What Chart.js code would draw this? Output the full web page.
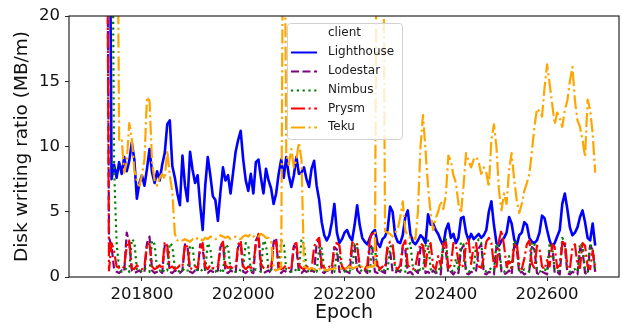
<!DOCTYPE html>
<html>
<head>
<meta charset="utf-8">
<script src="https://cdn.jsdelivr.net/npm/chart.js@4.4.1/dist/chart.umd.min.js"></script>
<style>
  html, body { margin: 0; padding: 0; background: #ffffff; }
  #c { display: block; }
</style>
</head>
<body>
<canvas id="c" width="623" height="324"></canvas>
<script>
// Disk writing ratio per client, sampled every 5 epochs starting at firstEpoch.
const firstEpoch = 201730;
const epochStep = 5;

const lighthouse = [
  null, 40, 7.5, 8.6, 7.6, 8.8, 7.9, 9.2, 8.1, 8.9,
  10.3, 9.0, 6.0, 7.2, 7.8, 7.0, 8.3, 9.8, 8.0, 7.2,
  8.1, 7.4, 8.6, 9.5, 11.7, 12.0, 8.5, 7.6, 6.4, 5.5,
  9.3, 7.0, 5.8, 9.6, 8.2, 7.2, 7.8, 5.5, 3.6, 7.0,
  9.2, 7.8, 6.2, 5.9, 4.3, 6.5, 8.4, 7.4, 7.8, 6.4,
  8.0, 9.6, 10.5, 11.2, 9.0, 7.4, 6.6, 7.9, 6.4, 8.8,
  9.0, 7.6, 6.4, 8.3, 7.4, 6.8, 5.6, 6.4, 7.9, 9.0,
  7.6, 9.2, 7.8, 6.9, 7.8, 9.2, 7.9, 8.0, 8.4, 7.5,
  6.9, 8.3, 8.9, 7.0, 5.9, 4.2, 3.2, 2.8, 3.2, 4.2,
  5.6, 3.4, 2.6, 2.9, 3.4, 3.6, 3.1, 2.8, 4.0, 5.5,
  4.0, 3.0, 2.7, 2.5, 3.0, 3.4, 3.6, 2.6, 2.3, 2.9,
  3.1, 3.6, 5.4, 5.0, 3.2, 2.7, 2.6, 3.2, 4.6, 5.1,
  3.3, 2.7, 2.5, 2.8, 3.2, 3.0, 2.6, 4.8, 4.0, 4.1,
  3.6, 3.3, 2.8, 2.4, 3.6, 4.1, 3.0, 3.3, 2.6, 3.0,
  4.5, 4.6, 3.4, 2.8, 3.3, 2.9, 3.1, 3.3, 3.0, 3.2,
  3.6, 5.0, 5.8, 4.0, 2.6, 2.4, 2.8, 3.0, 3.4, 4.6,
  4.1, 2.9, 2.4, 3.2, 3.4, 4.2, 4.0, 3.0, 2.7, 2.6,
  2.8, 3.4, 4.7, 4.5, 3.6, 2.8, 2.3, 2.6, 3.1, 3.6,
  5.6, 6.4, 5.2, 3.8, 3.2, 3.4, 3.8, 4.6, 5.1, 4.2,
  3.0, 2.8, 4.1, 2.4
];

const lodestar = [
  40, 3.0, 2.4, 0.6, 0.4, 0.3, 0.5, 0.4, 3.4, 2.6,
  0.5, 0.3, 0.4, 0.5, 0.3, 0.4, 2.6, 3.1, 0.5, 0.3,
  0.4, 0.5, 0.3, 2.4, 2.2, 0.4, 0.3, 0.5, 0.4, 0.3,
  0.5, 2.5, 2.3, 0.4, 0.3, 0.5, 0.4, 2.5, 2.2, 0.4,
  0.3, 0.5, 0.4, 0.3, 0.5, 2.3, 2.5, 0.4, 0.3, 0.5,
  0.4, 0.3, 2.3, 2.6, 0.4, 0.3, 0.5, 0.4, 0.3, 2.8,
  3.2, 0.5, 0.3, 0.4, 0.5, 0.3, 2.7, 3.0, 0.4, 0.3,
  0.5, 0.4, 0.3, 0.5, 2.4, 2.2, 0.4, 0.3, 0.5, 0.4,
  0.3, 0.5, 0.4, 2.6, 2.8, 0.4, 0.3, 0.5, 0.4, 0.3,
  2.3, 2.1, 0.4, 0.3, 0.5, 0.4, 0.3, 2.2, 2.4, 0.5,
  0.3, 0.4, 0.5, 0.3, 2.5, 2.2, 0.4, 0.3, 0.5, 0.4,
  0.3, 2.2, 2.0, 0.4, 0.3, 0.5, 0.4, 2.3, 2.1, 0.3,
  0.4, 0.2, 0.5, 0.3, 2.2, 2.4, 0.3, 0.4, 0.2, 0.5,
  0.3, 0.4, 0.2, 2.3, 2.0, 0.3, 0.4, 0.2, 0.5, 0.3,
  2.1, 2.4, 0.3, 0.2, 0.4, 0.3, 0.5, 2.2, 2.5, 0.3,
  0.2, 0.4, 0.3, 0.2, 2.3, 2.1, 0.4, 0.2, 0.3, 0.5,
  0.2, 2.4, 2.2, 0.3, 0.4, 0.2, 0.3, 0.5, 2.3, 2.1,
  0.3, 0.2, 0.4, 0.3, 0.2, 2.2, 2.5, 0.3, 0.4, 0.2,
  2.7, 2.4, 0.3, 0.2, 0.4, 0.3, 0.2, 2.2, 2.0, 0.3,
  0.2, 2.4, 2.1, 0.4
];

const nimbus = [
  null, null, 40, 8.4, 2.6, 0.6, 0.4, 0.5, 0.7, 0.4,
  2.9, 2.7, 0.6, 0.4, 0.5, 0.7, 0.5, 0.4, 2.8, 2.5,
  0.6, 0.5, 0.3, 0.6, 0.5, 2.6, 2.4, 0.7, 0.5, 0.4,
  0.6, 0.5, 0.4, 2.4, 2.3, 0.6, 0.5, 0.4, 0.6, 0.5,
  2.6, 2.2, 0.5, 0.4, 0.6, 0.5, 0.3, 2.5, 2.3, 0.6,
  0.5, 0.4, 0.6, 0.5, 0.7, 2.6, 2.4, 0.5, 0.4, 0.6,
  0.5, 0.4, 2.8, 2.5, 0.6, 0.5, 0.4, 0.6, 0.5, 2.8,
  2.6, 0.6, 0.5, 0.4, 0.6, 0.5, 0.4, 2.9, 2.5, 0.6,
  0.4, 0.5, 0.6, 0.4, 2.4, 2.2, 0.5, 0.4, 0.6, 0.5,
  0.4, 1.8, 1.7, 0.5, 0.4, 0.6, 0.5, 0.4, 2.5, 2.3,
  0.6, 0.4, 0.5, 0.6, 0.4, 2.4, 2.2, 0.6, 0.5, 0.4,
  0.6, 0.5, 2.3, 2.5, 0.6, 0.4, 0.5, 0.6, 0.4, 2.4,
  2.6, 0.7, 0.5, 0.4, 0.6, 0.5, 2.4, 2.8, 0.6, 0.5,
  0.4, 0.7, 0.5, 2.6, 2.9, 0.6, 0.4, 0.5, 1.4, 0.5,
  2.7, 2.5, 0.6, 0.4, 0.5, 0.6, 2.5, 2.9, 2.6, 0.6,
  0.4, 0.5, 0.7, 0.5, 2.6, 2.4, 0.6, 0.4, 0.5, 1.6,
  0.5, 2.8, 2.6, 0.5, 0.4, 0.6, 0.5, 0.4, 2.7, 2.5,
  0.6, 0.4, 0.5, 0.6, 0.4, 2.6, 2.3, 0.5, 0.4, 0.6,
  3.0, 2.7, 0.6, 0.4, 0.5, 0.6, 0.4, 2.6, 2.4, 0.5,
  0.4, 2.5, 2.2, 0.5
];

const prysm = [
  40, 0.5, 2.6, 2.0, 0.8, 0.7, 0.6, 0.8, 2.4, 2.8,
  0.7, 0.6, 0.9, 0.7, 0.6, 0.8, 2.6, 2.5, 0.8, 0.6,
  0.7, 0.9, 0.6, 2.7, 2.4, 0.7, 0.8, 0.6, 0.7, 0.9,
  0.8, 2.5, 2.3, 0.7, 0.6, 0.8, 0.7, 2.2, 2.6, 0.8,
  0.6, 0.9, 0.7, 0.6, 0.8, 2.4, 2.7, 0.9, 0.7, 0.8,
  0.6, 0.7, 2.5, 2.8, 0.8, 0.6, 0.8, 0.7, 0.9, 2.6,
  3.3, 1.0, 0.7, 0.6, 0.8, 0.7, 2.4, 2.7, 0.8, 0.6,
  0.7, 0.9, 0.7, 0.6, 2.5, 2.6, 0.9, 0.7, 0.6, 0.8,
  0.7, 0.6, 2.3, 2.8, 3.0, 0.9, 0.7, 0.6, 0.8, 0.7,
  2.5, 2.6, 2.4, 0.8, 0.6, 0.7, 0.9, 2.6, 2.7, 2.5,
  0.8, 0.7, 0.6, 0.9, 2.8, 3.5, 3.2, 0.9, 0.6, 0.8,
  0.7, 2.4, 2.7, 2.5, 0.8, 0.6, 0.9, 2.4, 2.8, 0.9,
  0.7, 0.6, 0.8, 1.8, 2.6, 2.4, 0.8, 2.3, 2.6, 0.8,
  0.6, 1.6, 0.9, 2.5, 2.7, 0.7, 0.9, 2.6, 2.4, 1.2,
  0.7, 0.9, 2.5, 2.9, 1.0, 2.4, 2.6, 0.8, 0.7, 1.5,
  2.7, 3.0, 2.6, 0.9, 0.6, 2.8, 3.6, 2.4, 0.8, 1.2,
  0.7, 2.4, 2.6, 0.9, 0.6, 1.4, 2.5, 2.8, 1.0, 0.7,
  2.4, 2.2, 0.8, 0.6, 1.3, 0.8, 2.5, 2.3, 0.7, 0.9,
  2.6, 2.8, 0.8, 0.6, 2.3, 2.5, 0.9, 0.7, 2.6, 2.4,
  0.8, 0.6, 2.0, 0.7
];

const teku = [
  null, null, null, null, 40, 10.5, 10.6, 8.0, 8.8, 11.8,
  10.6, 8.2, 7.4, 7.0, 7.8, 9.0, 13.8, 13.5, 8.8, 7.4,
  7.0, 7.6, 7.9, 7.5, 9.7, 7.8, 6.5, 3.3, 2.8, 2.9,
  2.8, 2.9, 2.8, 2.7, 2.9, 2.8, 3.0, 2.9, 2.8, 3.0,
  2.9, 3.1, 3.0, 2.9, 3.0, 3.2, 3.1, 3.0, 3.1, 2.9,
  3.0, 3.1, 3.0, 2.9, 3.1, 3.2, 3.1, 3.3, 3.1, 3.2,
  3.1, 3.3, 3.2, 3.0, 3.0, 2.7, 0.6, 0.5, 0.6, 0.7,
  40, 9.5, 8.6, 9.8, 8.4, 9.0, 10.3, 9.0, 0.8, 0.7,
  0.6, 0.7, 0.6, 0.5, 0.6, 0.7, 0.6, 0.5, 0.6, 0.6,
  0.7, 0.6, 0.6, 0.7, 0.6, 0.7, 0.8, 0.7, 0.7, 0.8,
  0.7, 0.8, 0.8, 0.7, 0.8, 0.8, 0.9, 40, 40, 40,
  3.5, 3.4, 3.3, 3.1, 3.4, 3.6, 4.6, 5.8, 3.6, 3.1,
  3.0, 3.1, 2.9, 5.0, 10.0, 12.4, 9.7, 6.9, 4.9, 3.6,
  4.5, 5.0, 5.8, 5.2, 6.2, 9.3, 8.9, 7.8, 7.2, 5.6,
  4.9, 7.0, 9.5, 8.9, 8.4, 9.0, 9.2, 8.8, 7.9, 8.4,
  8.0, 6.9, 10.5, 11.7, 10.0, 6.6, 5.1, 6.4, 5.6, 8.2,
  9.5, 7.5, 5.9, 4.9, 5.6, 6.6, 7.2, 7.9, 9.6, 11.5,
  12.9, 12.7, 12.3, 14.5, 16.3, 14.8, 13.3, 11.7, 12.6, 12.2,
  11.5, 12.8, 13.5, 15.0, 16.1, 13.5, 12.0, 11.5, 10.5, 9.2,
  13.6, 12.8, 11.0, 8.0
];

const clients = ['Lighthouse', 'Lodestar', 'Nimbus', 'Prysm', 'Teku'];
const xTickValues = [201800, 202000, 202200, 202400, 202600];
const yTickValues = [0, 5, 10, 15, 20];

const FONT = "'DejaVu Sans', 'Liberation Sans', sans-serif";

const epochs = lighthouse.map((_, i) => firstEpoch + i * epochStep);
const toPoints = vals => vals.map((y, i) => ({ x: epochs[i], y }));

const styles = {
  Lighthouse: { color: '#0000ff', dash: [], width: 2.6 },
  Lodestar:   { color: '#800080', dash: [8, 3.5], width: 2.2 },
  Nimbus:     { color: '#008000', dash: [2.2, 3.6], width: 2.2 },
  Prysm:      { color: '#ff0000', dash: [14, 3.5, 2.2, 3.5], width: 2.2 },
  Teku:       { color: '#ffa500', dash: [14, 3.5, 2.2, 3.5], width: 2.2 }
};
const seriesValues = { Lighthouse: lighthouse, Lodestar: lodestar, Nimbus: nimbus, Prysm: prysm, Teku: teku };

const datasets = clients.map((name, i) => ({
  label: name,
  data: toPoints(seriesValues[name]),
  borderColor: styles[name].color,
  backgroundColor: styles[name].color,
  borderDash: styles[name].dash,
  borderWidth: styles[name].width,
  borderCapStyle: 'butt',
  borderJoinStyle: 'round',
  pointRadius: 0,
  tension: 0,
  spanGaps: false,
  fill: false,
  order: clients.length - i
}));

// Axes frame plus an in-plot legend with a "client" heading.
const frameAndLegend = {
  id: 'frameAndLegend',
  afterDatasetsDraw(chart) {
    const { ctx, chartArea: a } = chart;
    ctx.save();
    ctx.strokeStyle = '#262626';
    ctx.lineWidth = 1.2;
    ctx.setLineDash([]);
    ctx.strokeRect(a.left, a.top, a.right - a.left, a.bottom - a.top);

    const bx = 287.5, by = 23.5, bw = 115, bh = 116, r = 3;
    ctx.beginPath();
    ctx.moveTo(bx + r, by);
    ctx.lineTo(bx + bw - r, by);
    ctx.arcTo(bx + bw, by, bx + bw, by + r, r);
    ctx.lineTo(bx + bw, by + bh - r);
    ctx.arcTo(bx + bw, by + bh, bx + bw - r, by + bh, r);
    ctx.lineTo(bx + r, by + bh);
    ctx.arcTo(bx, by + bh, bx, by + bh - r, r);
    ctx.lineTo(bx, by + r);
    ctx.arcTo(bx, by, bx + r, by, r);
    ctx.closePath();
    ctx.fillStyle = 'rgba(255,255,255,0.8)';
    ctx.fill();
    ctx.strokeStyle = '#d0d0d0';
    ctx.lineWidth = 1;
    ctx.stroke();

    const textX = 328, lineX0 = 291, lineX1 = 317;
    const rowY = i => 33 + i * 18.85;
    ctx.font = '12px ' + FONT;
    ctx.textBaseline = 'middle';
    ctx.textAlign = 'left';
    ctx.fillStyle = '#1a1a1a';
    ctx.fillText('client', textX, rowY(0));
    chart.data.datasets.forEach((ds, i) => {
      const y = Math.round(rowY(i + 1)) + 0.5;
      ctx.strokeStyle = ds.borderColor;
      ctx.lineWidth = 2;
      ctx.lineCap = 'butt';
      ctx.setLineDash(ds.borderDash);
      ctx.beginPath();
      ctx.moveTo(lineX0, y);
      ctx.lineTo(lineX1, y);
      ctx.stroke();
      ctx.setLineDash([]);
      ctx.fillStyle = '#1a1a1a';
      ctx.fillText(ds.label, textX, rowY(i + 1));
    });
    ctx.restore();
  }
};

new Chart(document.getElementById('c'), {
  type: 'line',
  data: { datasets },
  plugins: [frameAndLegend],
  options: {
    responsive: false,
    animation: false,
    devicePixelRatio: 1,
    layout: { padding: { top: 16, right: 4, left: 0, bottom: 0 } },
    plugins: { legend: { display: false }, tooltip: { enabled: false } },
    scales: {
      x: {
        type: 'linear',
        min: 201656,
        max: 202742,
        afterBuildTicks: s => { s.ticks = xTickValues.map(v => ({ value: v })); },
        afterFit: s => { s.height = 47; },
        ticks: {
          callback: v => String(v),
          font: { family: FONT, size: 16.5 },
          color: '#111111',
          padding: 4,
          maxRotation: 0,
          autoSkip: false
        },
        grid: { display: true, drawOnChartArea: false, drawTicks: true, tickLength: 4, color: '#262626' },
        border: { display: false },
        title: {
          display: true,
          text: 'Epoch',
          color: '#111111',
          font: { family: FONT, size: 19, lineHeight: 1 },
          padding: { top: 0, bottom: 1 }
        }
      },
      y: {
        type: 'linear',
        min: 0,
        max: 20,
        afterBuildTicks: s => { s.ticks = yTickValues.map(v => ({ value: v })); },
        afterFit: s => { s.width = 69; },
        ticks: {
          font: { family: FONT, size: 16.5 },
          color: '#111111',
          padding: 5
        },
        grid: { display: true, drawOnChartArea: false, drawTicks: true, tickLength: 4, color: '#262626' },
        border: { display: false },
        title: {
          display: true,
          text: 'Disk writing ratio (MB/m)',
          color: '#111111',
          font: { family: FONT, size: 18.5, lineHeight: 1 },
          padding: { top: 13, bottom: 0 }
        }
      }
    }
  }
});
</script>
</body>
</html>
